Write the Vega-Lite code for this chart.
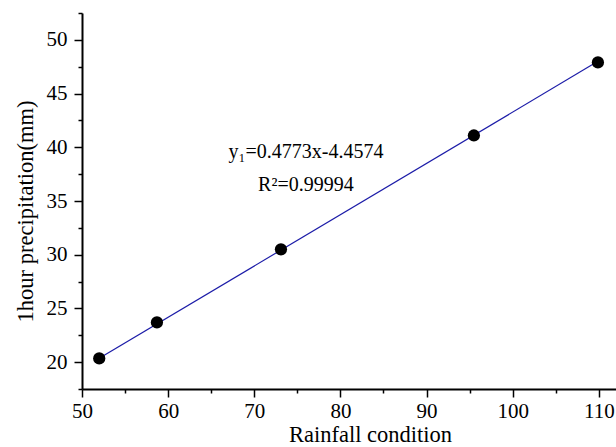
{
  "$schema": "https://vega.github.io/schema/vega-lite/v6.json",
  "width": 534,
  "height": 376,
  "autosize": {"type": "none"},
  "padding": {"left": 82, "top": 13, "right": 0, "bottom": 58},
  "background": "white",
  "config": {
    "view": {"stroke": null},
    "font": "Liberation Serif",
    "axis": {
      "domainColor": "black",
      "domainWidth": 2,
      "tickColor": "black",
      "tickWidth": 1.5,
      "labelColor": "black",
      "titleColor": "black",
      "labelFont": "Liberation Serif",
      "titleFont": "Liberation Serif",
      "labelFontSize": 21,
      "titleFontSize": 22.5,
      "titleFontWeight": "normal",
      "grid": false
    }
  },
  "datasets": {
    "pts": [
      {"x": 52.0, "y": 20.35},
      {"x": 58.7, "y": 23.7},
      {"x": 73.1, "y": 30.5},
      {"x": 95.5, "y": 41.1},
      {"x": 109.9, "y": 47.9}
    ],
    "fit": [
      {"x": 52.0, "y": 20.36},
      {"x": 109.9, "y": 48.0}
    ],
    "ann": [
      {"x": 76.0, "y": 39.0, "t": "y₁=0.4773x-4.4574"},
      {"x": 76.0, "y": 35.9, "t": "R²=0.99994"}
    ]
  },
  "resolve": {"axis": {"x": "independent", "y": "independent"}},
  "layer": [
    {
      "data": {"name": "fit"},
      "mark": {"type": "line", "color": "#1c1ca8", "strokeWidth": 1.2},
      "encoding": {
        "x": {
          "field": "x", "type": "quantitative",
          "scale": {"domain": [50, 112], "nice": false, "zero": false},
          "axis": {
            "orient": "bottom",
            "title": "Rainfall condition",
            "titlePadding": 2,
            "titleX": 288,
            "values": [50, 60, 70, 80, 90, 100, 110],
            "tickSize": 8,
            "labelPadding": 3,
            "labelFlush": false,
            "labelOverlap": false
          }
        },
        "y": {
          "field": "y", "type": "quantitative",
          "scale": {"domain": [17.5, 52.5], "nice": false, "zero": false},
          "axis": {
            "orient": "left",
            "title": "1hour precipitation(mm)",
            "titlePadding": 9,
            "titleY": 198,
            "values": [20, 25, 30, 35, 40, 45, 50],
            "tickSize": 8,
            "labelPadding": 7,
            "labelFlush": false,
            "labelOverlap": false
          }
        }
      }
    },
    {
      "data": {"name": "pts"},
      "mark": {"type": "point", "filled": true, "color": "black", "opacity": 1, "size": 150},
      "encoding": {
        "x": {
          "field": "x", "type": "quantitative",
          "axis": {
            "orient": "bottom",
            "title": null,
            "domain": false,
            "labels": false,
            "values": [55, 65, 75, 85, 95, 105],
            "tickSize": 4
          }
        },
        "y": {
          "field": "y", "type": "quantitative",
          "axis": {
            "orient": "left",
            "title": null,
            "domain": false,
            "labels": false,
            "values": [17.5, 22.5, 27.5, 32.5, 37.5, 42.5, 47.5, 52.5],
            "tickSize": 4
          }
        }
      }
    },
    {
      "data": {"name": "ann"},
      "mark": {"type": "text", "font": "Liberation Serif", "fontSize": 20, "color": "black", "align": "center", "baseline": "alphabetic"},
      "encoding": {
        "x": {"field": "x", "type": "quantitative", "axis": null},
        "y": {"field": "y", "type": "quantitative", "axis": null},
        "text": {"field": "t"}
      }
    }
  ]
}
